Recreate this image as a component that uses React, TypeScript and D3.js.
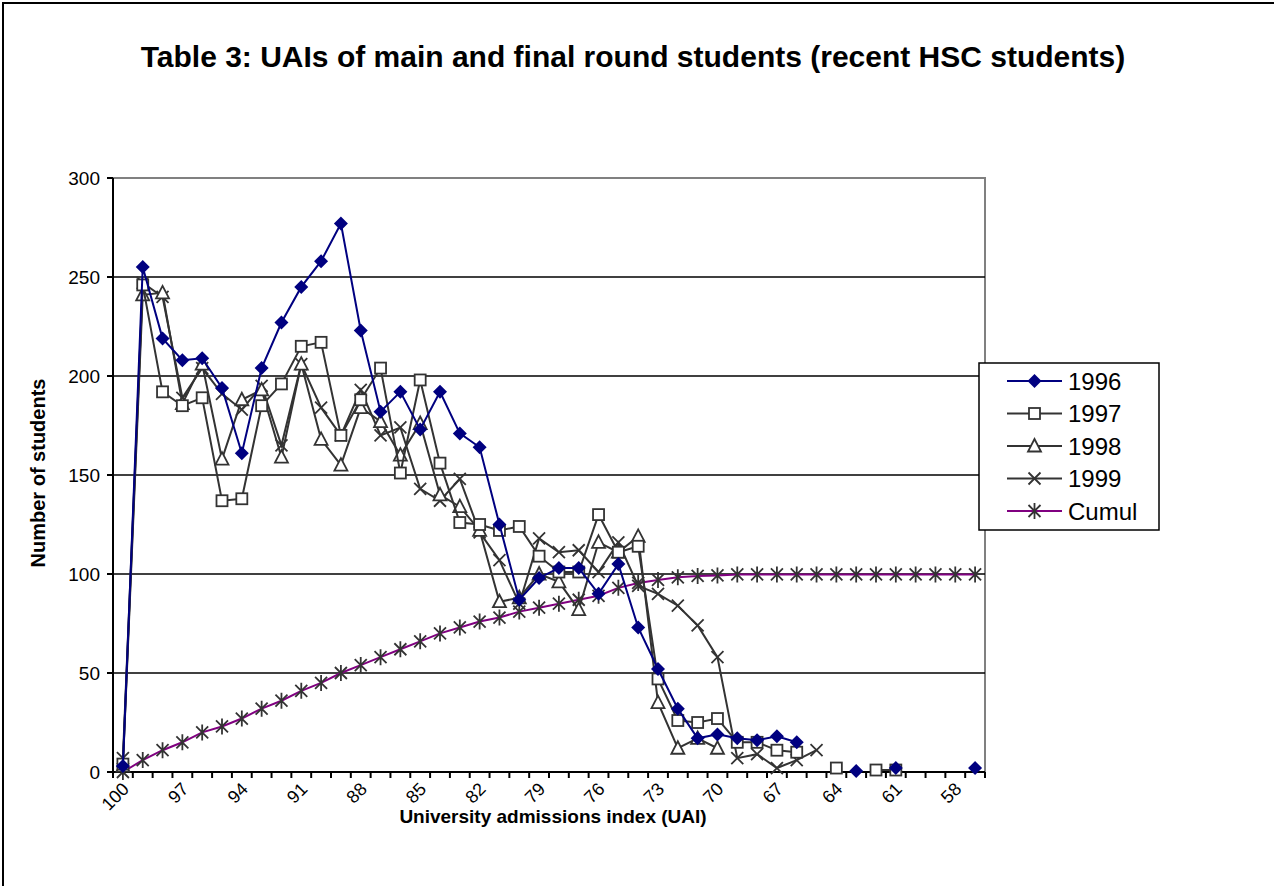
import * as d3 from "d3";

// category axis: UAI, one category per point
const categories = [
  "100", "99", "98", "97", "96", "95", "94", "93", "92", "91", "90",
  "89", "88", "87", "86", "85", "84", "83", "82", "81", "80",
  "79", "78", "77", "76", "75", "74", "73", "72", "71", "70",
  "69", "68", "67", "66", "65", "64", "63", "62", "61", "60",
  "59", "58", "57",
];
const labelledCategories = ["100", "97", "94", "91", "88", "85", "82", "79", "76", "73", "70", "67", "64", "61", "58"];
const yTicks = [0, 50, 100, 150, 200, 250, 300];

type V = number | null;

const s1996: V[] = [
  3, 255, 219, 208, 209, 194, 161, 204, 227, 245,
  258, 277, 223, 182, 192, 173, 192, 171, 164, 125,
  87, 98, 103, 103, 90, 105, 73, 52, 32, 17,
  19, 17, 16, 18, 15, null, null, 0.5, null, 2,
  null, null, null, 2,
];
const s1997: V[] = [
  4, 246, 192, 185, 189, 137, 138, 185, 196, 215,
  217, 170, 188, 204, 151, 198, 156, 126, 125, 122,
  124, 109, 101, 101, 130, 111, 114, 47, 26, 25,
  27, 15, 15, 11, 10, null, 2, null, 1, 1,
  null, null, null, null,
];
const s1998: V[] = [
  3, 241, 242, 186, 206, 158, 188, 193, 159, 206,
  168, 155, 184, 177, 160, 176, 140, 134, 122, 86,
  88, 100, 96, 82, 116, 111, 119, 35, 12, 17,
  12, null, null, null, null, null, null, null, null, null,
  null, null, null, null,
];
const s1999: V[] = [
  7, 247, 240, 189, 204, 191, 183, 195, 165, 206,
  184, 170, 193, 170, 174, 143, 137, 148, 121, 107,
  85, 118, 111, 112, 101, 116, 94, 90, 84, 74,
  58, 7, 9, 2, 6, 11, null, null, null, null,
  null, null, null, null,
];
const sCumul: V[] = [
  0, 6, 11, 15, 20, 23, 27, 32, 36, 41,
  45, 50, 54, 58, 62, 66, 70, 73, 76, 78,
  81, 83, 85, 87, 89, 93, 95.5, 97, 98.3, 99,
  99.3, 99.8, 99.8, 99.8, 99.8, 99.8, 99.8, 99.8, 99.8, 99.8,
  99.8, 99.8, 99.8, 99.8,
];

const FONT = "'Liberation Sans', Arial, sans-serif";
const GREY = "#333333";

const margin = { left: 113, right: 985, top: 178, bottom: 772 };

type Marker = "diamond" | "square" | "triangle" | "x" | "star";

const series: { name: string; values: V[]; color: string; marker: Marker }[] = [
  { name: "Cumul", values: sCumul, color: "#800080", marker: "star" },
  { name: "1999", values: s1999, color: GREY, marker: "x" },
  { name: "1998", values: s1998, color: GREY, marker: "triangle" },
  { name: "1997", values: s1997, color: GREY, marker: "square" },
  { name: "1996", values: s1996, color: "#000080", marker: "diamond" },
];
const legendOrder = ["1996", "1997", "1998", "1999", "Cumul"];

const MarkerShape = ({ type, x, y }: { type: Marker; x: number; y: number }) => {
  const t = `translate(${x},${y})`;
  if (type === "diamond")
    return <path transform={t} d="M0,-7L7,0L0,7L-7,0Z" fill="#000080" />;
  if (type === "square")
    return <rect transform={t} x={-5.5} y={-5.5} width={11} height={11} fill="#fff" stroke={GREY} strokeWidth={1.8} />;
  if (type === "triangle")
    return <path transform={t} d="M0,-7L6.5,5.5L-6.5,5.5Z" fill="#fff" stroke={GREY} strokeWidth={1.8} />;
  if (type === "x")
    return <path transform={t} d="M-6,-6L6,6M-6,6L6,-6" stroke={GREY} strokeWidth={1.8} fill="none" />;
  return <path transform={t} d="M-6,-6L6,6M-6,6L6,-6M0,-8L0,8" stroke={GREY} strokeWidth={1.8} fill="none" />;
};

const App = () => {
  const W = 1274;
  const H = 886;

  const x = d3.scaleBand<string>().domain(categories).range([margin.left, margin.right]).padding(0);
  const cx = (c: string) => (x(c) as number) + x.bandwidth() / 2;
  const y = d3.scaleLinear().domain([0, 300]).range([margin.bottom, margin.top]);

  const line = d3
    .line<V>()
    .defined((d) => d !== null)
    .x((_, i) => cx(categories[i]))
    .y((d) => y(d as number));

  // tick marks between categories
  const boundaries = categories.map((c) => x(c) as number).concat([margin.right]);

  return (
    <svg width={W} height={H} style={{ position: "absolute", left: 0, top: 0, background: "#fff" }} fontFamily={FONT}>
      <rect x={0} y={0} width={W} height={H} fill="#fff" />
      {/* chart border */}
      <path d={`M3,${H + 5}L3,3L${W + 5},3`} fill="none" stroke="#000" strokeWidth={2} />

      <text x={633} y={67} textAnchor="middle" fontSize={30} fontWeight="bold">
        Table 3: UAIs of main and final round students (recent HSC students)
      </text>

      {/* plot area border (top/right) */}
      <path
        d={`M${margin.left},${margin.top}L${margin.right},${margin.top}L${margin.right},${margin.bottom}`}
        fill="none"
        stroke="#808080"
        strokeWidth={2}
      />

      {/* gridlines */}
      {yTicks.slice(1, -1).map((t) => (
        <line key={t} x1={margin.left} x2={margin.right} y1={y(t)} y2={y(t)} stroke="#000" strokeWidth={1.5} />
      ))}

      {/* y axis */}
      <line x1={margin.left} x2={margin.left} y1={margin.top} y2={margin.bottom} stroke="#000" strokeWidth={2} />
      {yTicks.map((t) => (
        <g key={t}>
          <line x1={margin.left - 6} x2={margin.left} y1={y(t)} y2={y(t)} stroke="#000" strokeWidth={2} />
          <text x={100} y={y(t)} textAnchor="end" dominantBaseline="central" fontSize={19}>
            {t}
          </text>
        </g>
      ))}

      {/* x axis */}
      <line x1={margin.left} x2={margin.right} y1={margin.bottom} y2={margin.bottom} stroke="#000" strokeWidth={2} />
      {boundaries.map((b, i) => (
        <line key={i} x1={b} x2={b} y1={margin.bottom} y2={margin.bottom + 6} stroke="#000" strokeWidth={2} />
      ))}
      {labelledCategories.map((c) => {
        const px = cx(c) + 3;
        const py = margin.bottom + 14;
        return (
          <text
            key={c}
            x={px}
            y={py}
            textAnchor="end"
            dominantBaseline="central"
            fontSize={18}
            transform={`rotate(-45,${px},${py})`}
          >
            {c}
          </text>
        );
      })}

      {/* series */}
      {series.map((s) => (
        <g key={s.name}>
          <path d={line(s.values) || ""} fill="none" stroke={s.color} strokeWidth={2} />
          {s.values.map((v, i) =>
            v === null ? null : <MarkerShape key={i} type={s.marker} x={cx(categories[i])} y={y(v)} />
          )}
        </g>
      ))}

      {/* axis titles */}
      <text x={553} y={823} textAnchor="middle" fontSize={19} fontWeight="bold">
        University admissions index (UAI)
      </text>
      <text
        x={38}
        y={473}
        textAnchor="middle"
        dominantBaseline="central"
        fontSize={20}
        fontWeight="bold"
        transform="rotate(-90,38,473)"
      >
        Number of students
      </text>

      {/* legend */}
      <rect x={979} y={363} width={180} height={167} fill="#fff" stroke="#000" strokeWidth={1.5} />
      {legendOrder.map((name, i) => {
        const s = series.find((d) => d.name === name)!;
        const ly = 381 + i * 32.5;
        return (
          <g key={name}>
            <line x1={1007} x2={1062} y1={ly} y2={ly} stroke={s.color} strokeWidth={2} />
            <MarkerShape type={s.marker} x={1034.5} y={ly} />
            <text x={1068} y={ly} dominantBaseline="central" fontSize={24}>
              {name}
            </text>
          </g>
        );
      })}
    </svg>
  );
};

export default App;
